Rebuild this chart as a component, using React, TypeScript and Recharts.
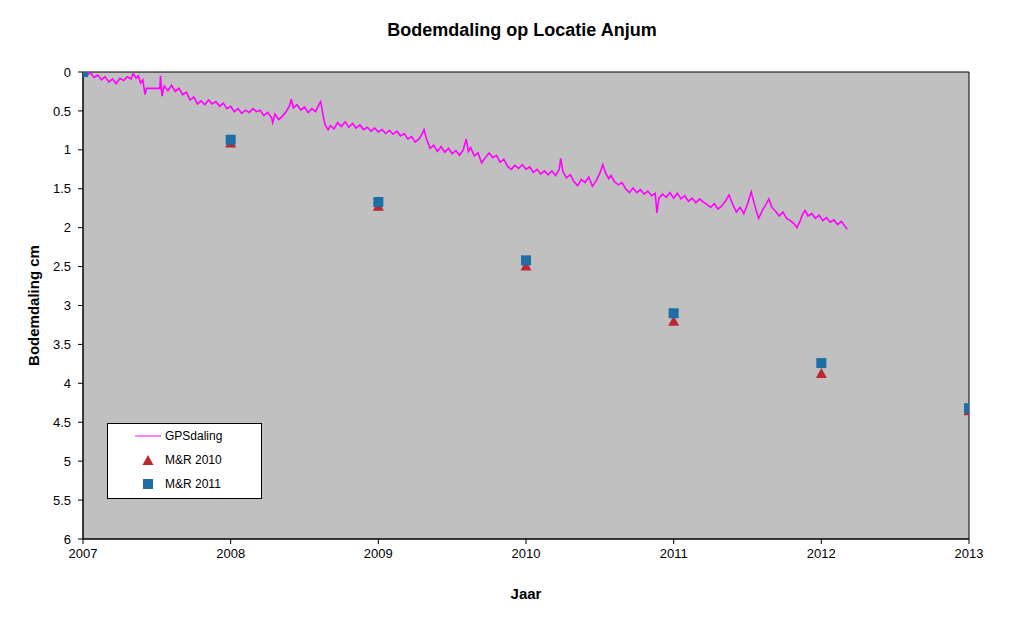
import React from "react";
import { ComposedChart, Line, Scatter, XAxis, YAxis, CartesianGrid, ReferenceArea } from "recharts";

const FONT = '"Liberation Sans", Arial, sans-serif';

// jaren op de x-as en dalingsticks (cm) op de y-as
const jaren = [2007, 2008, 2009, 2010, 2011, 2012, 2013];
const dalingTicks = [0, 0.5, 1, 1.5, 2, 2.5, 3, 3.5, 4, 4.5, 5, 5.5, 6];

// prognoses M&R, per jaar
const mr2010 = [0, 0.92, 1.73, 2.5, 3.21, 3.88, 4.36];
const mr2011 = [0, 0.87, 1.67, 2.42, 3.1, 3.74, 4.32];

// GPS-meting: [jaar, daling cm]
const gpsMetingen: [number, number][] = [
  [2007.0, 0.0], [2007.025, 0.04], [2007.05, 0.01], [2007.075, 0.07], [2007.1, 0.04],
  [2007.125, 0.1], [2007.15, 0.06], [2007.175, 0.13], [2007.2, 0.09], [2007.225, 0.15],
  [2007.25, 0.08], [2007.275, 0.11], [2007.3, 0.06], [2007.325, 0.09], [2007.34, 0.02],
  [2007.36, 0.08], [2007.375, 0.05], [2007.39, 0.14], [2007.405, 0.1], [2007.42, 0.29],
  [2007.43, 0.21], [2007.52, 0.21], [2007.525, 0.05], [2007.535, 0.31], [2007.55, 0.18],
  [2007.575, 0.24], [2007.6, 0.17], [2007.625, 0.25], [2007.65, 0.21], [2007.675, 0.29],
  [2007.7, 0.26], [2007.725, 0.36], [2007.75, 0.32], [2007.775, 0.41], [2007.8, 0.37],
  [2007.825, 0.42], [2007.85, 0.36], [2007.875, 0.41], [2007.9, 0.38], [2007.925, 0.44],
  [2007.95, 0.4], [2007.975, 0.47], [2008.0, 0.44], [2008.025, 0.51], [2008.05, 0.47],
  [2008.075, 0.53], [2008.1, 0.49], [2008.125, 0.52], [2008.15, 0.47], [2008.175, 0.51],
  [2008.2, 0.49], [2008.225, 0.56], [2008.25, 0.52], [2008.275, 0.58], [2008.285, 0.65],
  [2008.3, 0.54], [2008.325, 0.61], [2008.35, 0.57], [2008.375, 0.51], [2008.4, 0.43],
  [2008.41, 0.35], [2008.425, 0.46], [2008.45, 0.42], [2008.475, 0.49], [2008.5, 0.45],
  [2008.525, 0.52], [2008.55, 0.47], [2008.575, 0.51], [2008.6, 0.41], [2008.61, 0.38],
  [2008.625, 0.55], [2008.64, 0.68], [2008.66, 0.74], [2008.675, 0.69], [2008.7, 0.73],
  [2008.725, 0.65], [2008.75, 0.7], [2008.775, 0.64], [2008.8, 0.71], [2008.825, 0.66],
  [2008.85, 0.72], [2008.875, 0.68], [2008.9, 0.74], [2008.925, 0.71], [2008.95, 0.76],
  [2008.975, 0.72], [2009.0, 0.77], [2009.025, 0.74], [2009.05, 0.79], [2009.075, 0.75],
  [2009.1, 0.8], [2009.125, 0.76], [2009.15, 0.82], [2009.175, 0.79], [2009.2, 0.86],
  [2009.225, 0.83], [2009.25, 0.9], [2009.275, 0.86], [2009.295, 0.8], [2009.31, 0.74],
  [2009.325, 0.85], [2009.35, 0.98], [2009.375, 0.94], [2009.4, 1.02], [2009.425, 0.96],
  [2009.45, 1.03], [2009.475, 0.98], [2009.5, 1.05], [2009.525, 1.01], [2009.55, 1.07],
  [2009.575, 1.0], [2009.595, 0.86], [2009.61, 1.02], [2009.625, 0.97], [2009.65, 1.08],
  [2009.675, 1.04], [2009.7, 1.17], [2009.725, 1.1], [2009.75, 1.04], [2009.775, 1.1],
  [2009.8, 1.07], [2009.825, 1.16], [2009.85, 1.12], [2009.875, 1.21], [2009.9, 1.25],
  [2009.925, 1.2], [2009.95, 1.24], [2009.975, 1.19], [2010.0, 1.25], [2010.025, 1.22],
  [2010.05, 1.29], [2010.075, 1.25], [2010.1, 1.31], [2010.125, 1.27], [2010.15, 1.32],
  [2010.175, 1.27], [2010.2, 1.33], [2010.225, 1.25], [2010.235, 1.11], [2010.25, 1.28],
  [2010.275, 1.36], [2010.3, 1.32], [2010.325, 1.41], [2010.35, 1.46], [2010.375, 1.38],
  [2010.4, 1.42], [2010.425, 1.35], [2010.45, 1.47], [2010.475, 1.4], [2010.5, 1.3],
  [2010.52, 1.19], [2010.54, 1.3], [2010.56, 1.37], [2010.575, 1.33], [2010.6, 1.41],
  [2010.625, 1.45], [2010.65, 1.42], [2010.675, 1.5], [2010.7, 1.55], [2010.725, 1.49],
  [2010.75, 1.55], [2010.775, 1.51], [2010.8, 1.57], [2010.825, 1.53], [2010.85, 1.59],
  [2010.875, 1.56], [2010.887, 1.81], [2010.9, 1.62], [2010.925, 1.57], [2010.95, 1.61],
  [2010.975, 1.55], [2011.0, 1.62], [2011.025, 1.56], [2011.05, 1.63], [2011.075, 1.59],
  [2011.1, 1.66], [2011.125, 1.62], [2011.15, 1.68], [2011.175, 1.63], [2011.2, 1.67],
  [2011.225, 1.7], [2011.25, 1.74], [2011.275, 1.69], [2011.3, 1.76], [2011.325, 1.72],
  [2011.35, 1.66], [2011.375, 1.58], [2011.4, 1.7], [2011.425, 1.8], [2011.45, 1.74],
  [2011.475, 1.82], [2011.5, 1.7], [2011.525, 1.54], [2011.55, 1.72], [2011.575, 1.88],
  [2011.6, 1.78], [2011.625, 1.7], [2011.645, 1.63], [2011.665, 1.74], [2011.69, 1.79],
  [2011.715, 1.85], [2011.74, 1.8], [2011.765, 1.88], [2011.79, 1.91], [2011.815, 1.95],
  [2011.835, 2.0], [2011.855, 1.92], [2011.875, 1.82], [2011.89, 1.78], [2011.91, 1.85],
  [2011.935, 1.82], [2011.96, 1.88], [2011.985, 1.84], [2012.01, 1.91], [2012.035, 1.87],
  [2012.06, 1.93], [2012.085, 1.9], [2012.11, 1.96], [2012.135, 1.92], [2012.16, 1.98],
  [2012.175, 2.02],
];

const gpsData = gpsMetingen.map(([jaar, cm]) => ({ jaar, cm }));
const mr2010Data = jaren.map((jaar, i) => ({ jaar, cm: mr2010[i] }));
const mr2011Data = jaren.map((jaar, i) => ({ jaar, cm: mr2011[i] }));

const GPS_KLEUR = "#FF00FF";
const DRIEHOEK_KLEUR = "#C0262D";
const VIERKANT_KLEUR = "#1C6EA4";

const Driehoek = (props: any) => {
  const { cx, cy } = props;
  if (cx == null || cy == null) return null;
  return <path d={`M${cx},${cy - 6} L${cx + 5.5},${cy + 4} L${cx - 5.5},${cy + 4} Z`} fill={DRIEHOEK_KLEUR} />;
};

const Vierkant = (props: any) => {
  const { cx, cy } = props;
  if (cx == null || cy == null) return null;
  return <rect x={cx - 5} y={cy - 5} width={10} height={10} fill={VIERKANT_KLEUR} />;
};

const YTitel = (props: any) => {
  const { viewBox } = props;
  const x = viewBox.x + 33;
  const y = viewBox.y + viewBox.height / 2;
  return (
    <text x={x} y={y} transform={`rotate(-90 ${x} ${y})`} textAnchor="middle" dominantBaseline="central"
      style={{ fontFamily: FONT, fontSize: 15, fontWeight: "bold" }} fill="#000">
      Bodemdaling cm
    </text>
  );
};

const XTitel = (props: any) => {
  const { viewBox } = props;
  return (
    <text x={viewBox.x + viewBox.width / 2} y={viewBox.y + 54} textAnchor="middle" dominantBaseline="central"
      style={{ fontFamily: FONT, fontSize: 15, fontWeight: "bold" }} fill="#000">
      Jaar
    </text>
  );
};

function Legenda() {
  const rij = { display: "flex", alignItems: "center", height: 24 } as const;
  const icoon = { width: 40, display: "flex", justifyContent: "center", marginLeft: 20, marginRight: -3 } as const;
  return (
    <div style={{ position: "absolute", left: 107, top: 423, width: 153, height: 72, background: "#fff",
      border: "1px solid #000", fontFamily: FONT, fontSize: 12, color: "#000", padding: "0 0 2px" }}>
      <div style={rij}>
        <div style={icoon}><svg width={26} height={4}><line x1={0} y1={2} x2={26} y2={2} stroke={GPS_KLEUR} strokeWidth={1} /></svg></div>
        <span>GPSdaling</span>
      </div>
      <div style={rij}>
        <div style={icoon}><svg width={12} height={12}><path d="M6,1 L11.5,11 L0.5,11 Z" fill={DRIEHOEK_KLEUR} /></svg></div>
        <span>M&amp;R 2010</span>
      </div>
      <div style={rij}>
        <div style={icoon}><svg width={10} height={10}><rect width={10} height={10} fill={VIERKANT_KLEUR} /></svg></div>
        <span>M&amp;R 2011</span>
      </div>
    </div>
  );
}

export default function App() {
  return (
    <div style={{ position: "relative", width: 1024, height: 626, margin: -8, background: "#fff" }}>
      <div style={{ position: "absolute", top: 20, left: 0, width: 1044, textAlign: "center", fontFamily: FONT,
        fontSize: 18, fontWeight: "bold", color: "#000" }}>
        Bodemdaling op Locatie Anjum
      </div>
      <ComposedChart width={1024} height={626} margin={{ top: 72, right: 55, bottom: 0, left: 0 }}>
        <CartesianGrid fill="#C0C0C0" horizontal={false} vertical={false} />
        <XAxis dataKey="jaar" type="number" domain={[2007, 2013]} ticks={jaren} height={87}
          allowDataOverflow stroke="#000" tickSize={5} tickMargin={5}
          tick={{ fontFamily: FONT, fontSize: 13, fill: "#000" }} label={<XTitel />} />
        <YAxis dataKey="cm" type="number" domain={[0, 6]} ticks={dalingTicks} reversed width={83}
          allowDataOverflow stroke="#000" tickSize={5} tickMargin={7}
          tick={{ fontFamily: FONT, fontSize: 13, fill: "#000" }} label={<YTitel />} />
        <Line data={gpsData} dataKey="cm" type="linear" stroke={GPS_KLEUR} strokeWidth={1.6} dot={false}
          activeDot={false} isAnimationActive={false} />
        <Scatter data={mr2010Data} dataKey="cm" shape={<Driehoek />} isAnimationActive={false} />
        <Scatter data={mr2011Data} dataKey="cm" shape={<Vierkant />} isAnimationActive={false} />
        <ReferenceArea x1={2007} x2={2013} y1={0} y2={6} fill="none" stroke="#000" strokeWidth={1} />
      </ComposedChart>
      <Legenda />
    </div>
  );
}
